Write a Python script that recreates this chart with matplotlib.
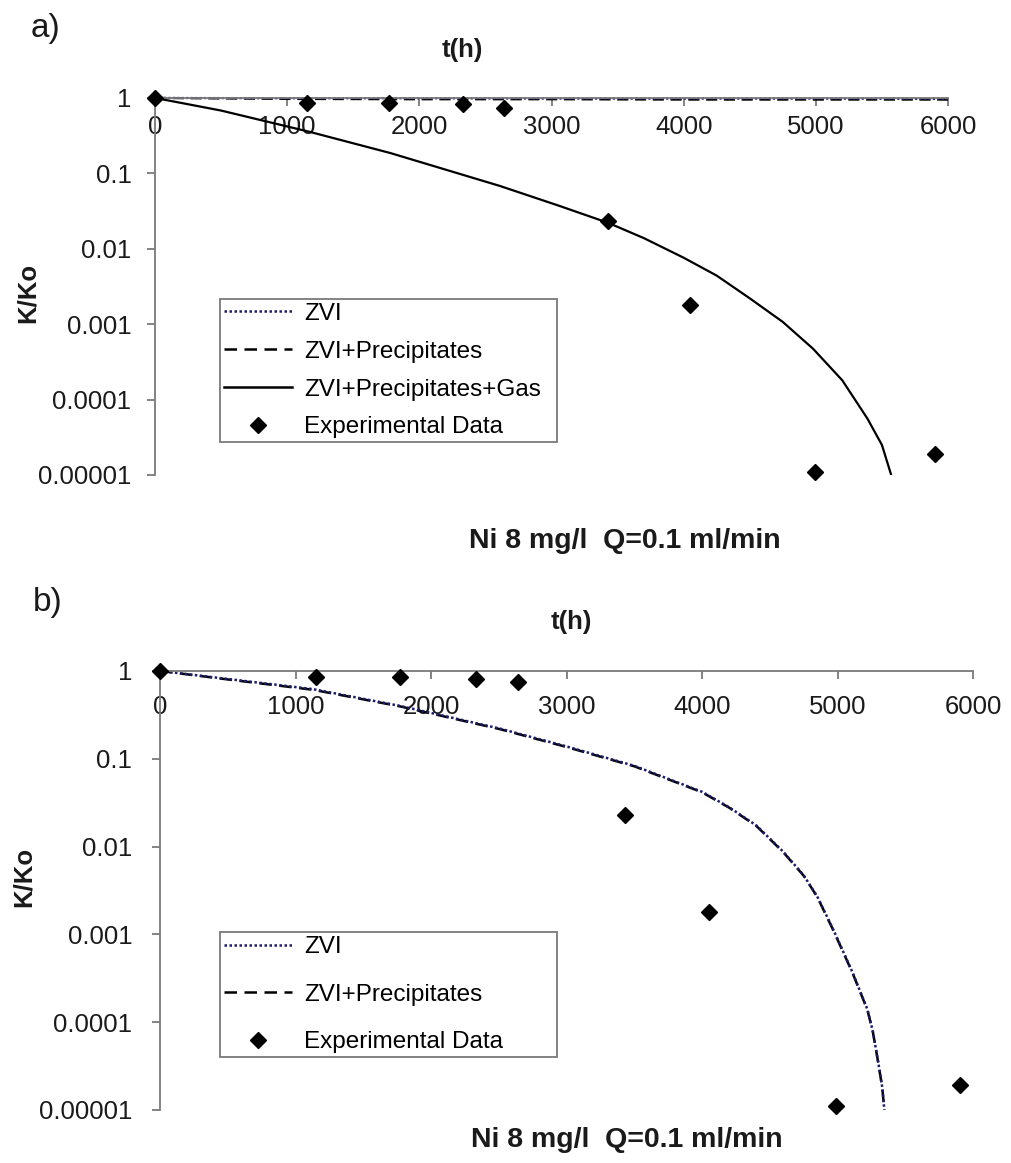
import numpy as np
import matplotlib
matplotlib.use('Agg')
from matplotlib import pyplot as plt
from matplotlib.ticker import FixedLocator, FixedFormatter, NullLocator
from matplotlib.lines import Line2D

plt.rcParams['font.family'] = ['Liberation Sans', 'DejaVu Sans']

# Experimental data (same in both panels)
t_exp = [0, 1150, 1770, 2330, 2640, 3430, 4050, 4990, 5900]
k_exp = [1.0, 0.85, 0.85, 0.82, 0.74, 0.023, 0.0018, 1.1e-5, 1.9e-5]

# panel a) models
t_flat = [0, 1000, 2000, 3000, 4000, 5000, 6000]
k_zvi_a = [1.0, 0.99, 0.99, 0.98, 0.98, 0.98, 0.97]
k_prec_a = [1.0, 0.97, 0.96, 0.96, 0.95, 0.95, 0.95]
t_gas = [0, 500, 1170, 1780, 2610, 3060, 3430, 3700, 4000, 4250, 4500, 4750, 4980,
         5200, 5390, 5500, 5570]
k_gas = [1.0, 0.68, 0.355, 0.186, 0.068, 0.037, 0.022, 0.0138, 0.0076, 0.0044,
         0.0022, 0.00107, 4.7e-4, 1.8e-4, 5.6e-5, 2.5e-5, 1.0e-5]

# panel b) models
t_b = [0, 500, 1130, 1770, 2510, 3000, 3500, 4000, 4200, 4400, 4600, 4750, 4850,
       4970, 5110, 5220, 5260, 5300, 5330, 5345]
k_zvi_b = [1.0, 0.81, 0.62, 0.40, 0.22, 0.138, 0.083, 0.042, 0.028, 0.0174, 0.0087,
           0.0047, 0.0027, 0.00112, 3.7e-4, 1.4e-4, 7.9e-5, 3.5e-5, 1.8e-5, 1.0e-5]
k_prec_b = [1.0, 0.80, 0.61, 0.395, 0.217, 0.136, 0.082, 0.0415, 0.0277, 0.0172, 0.0086,
            0.00465, 0.00267, 0.0011, 3.65e-4, 1.38e-4, 7.8e-5, 3.45e-5, 1.78e-5, 1.0e-5]

yticks = [1, 0.1, 0.01, 0.001, 0.0001, 0.00001]
ylabels = ['1', '0.1', '0.01', '0.001', '0.0001', '0.00001']
xticks = [0, 1000, 2000, 3000, 4000, 5000, 6000]

navy = '#1c1c6b'
grey = '#7a7a7a'
dotted = (0, (1, 1))
dashed = (0, (5, 3))

fig = plt.figure(figsize=(10.11, 11.63), dpi=100)
ax_a = fig.add_axes([0.1533, 0.5916, 0.7844, 0.3242])
ax_b = fig.add_axes([0.1583, 0.0456, 0.8042, 0.3775])


def style(ax, xpad, ypad):
    ax.set_yscale('log')
    ax.set_ylim(1e-5, 1)
    ax.set_xlim(0, 6000)
    ax.yaxis.set_major_locator(FixedLocator(yticks))
    ax.yaxis.set_major_formatter(FixedFormatter(ylabels))
    ax.yaxis.set_minor_locator(NullLocator())
    ax.xaxis.set_major_locator(FixedLocator(xticks))
    ax.spines['top'].set_visible(False)
    ax.spines['right'].set_visible(False)
    ax.spines['bottom'].set_position(('axes', 1.0))
    for s in ('left', 'bottom'):
        ax.spines[s].set_color(grey)
        ax.spines[s].set_linewidth(1.3)
    ax.tick_params(axis='x', direction='out', length=6, width=1.3, color=grey,
                   labelsize=18.5, pad=xpad, labelcolor='#1a1a1a')
    ax.tick_params(axis='y', direction='out', length=6, width=1.3, color=grey,
                   labelsize=18.5, pad=ypad, labelcolor='#1a1a1a')


style(ax_a, 6, 11)
style(ax_b, 11, 14)

# panel a
ax_a.plot(t_flat, k_prec_a, color='k', ls=dashed, lw=1.6, clip_on=False)
ax_a.plot(t_flat, k_zvi_a, color=navy, ls=dotted, lw=1.6, clip_on=False)
ax_a.plot(t_gas, k_gas, color='k', lw=1.6)
ax_a.plot(t_exp, k_exp, 'D', color='k', ms=8, clip_on=False, zorder=5)

# panel b
ax_b.plot(t_b, k_prec_b, color='k', ls=dashed, lw=1.8)
ax_b.plot(t_b, k_zvi_b, color=navy, ls=dotted, lw=1.8)
ax_b.plot(t_exp, k_exp, 'D', color='k', ms=8, clip_on=False, zorder=5)

h_zvi = Line2D([], [], color=navy, ls=dotted, lw=1.8)
h_prec = Line2D([], [], color='k', ls=dashed, lw=1.8)
h_gas = Line2D([], [], color='k', lw=1.8)
h_exp = Line2D([], [], color='k', marker='D', ls='none', ms=8)

leg_kw = dict(loc='lower left', fontsize=17.5, frameon=True, fancybox=False,
              framealpha=1, edgecolor=grey, handlelength=2.8, handletextpad=0.5,
              borderpad=0.15, borderaxespad=0, mode='expand')
leg = ax_a.legend([h_zvi, h_prec, h_gas, h_exp],
                  ['ZVI', 'ZVI+Precipitates', 'ZVI+Precipitates+Gas', 'Experimental Data'],
                  bbox_to_anchor=(0.082, 0.0875, 0.425, 0), labelspacing=0.65, **leg_kw)
leg.get_frame().set_linewidth(1.3)
leg = ax_b.legend([h_zvi, h_prec, h_exp],
                  ['ZVI', 'ZVI+Precipitates', 'Experimental Data'],
                  bbox_to_anchor=(0.074, 0.121, 0.4145, 0), labelspacing=1.05, **leg_kw)
leg.get_frame().set_linewidth(1.3)

# texts (figure pixel positions converted to fractions)
W, H = 1011, 1163


def ftext(x, y, s, **kw):
    fig.text(x / W, 1 - y / H, s, ha='center', va='center', color='#1a1a1a', **kw)


ftext(45, 28, 'a)', fontsize=24)
ftext(48, 603, 'b)', fontsize=24)
ftext(462, 50, 't(h)', fontsize=18.5, fontweight='bold')
ftext(571, 622, 't(h)', fontsize=18.5, fontweight='bold')
ftext(28, 293, 'K/Ko', fontsize=18.5, fontweight='bold', rotation=90)
ftext(24, 877, 'K/Ko', fontsize=18.5, fontweight='bold', rotation=90)
ftext(625, 541, 'Ni 8 mg/l  Q=0.1 ml/min', fontsize=20.5, fontweight='bold')
ftext(627, 1140, 'Ni 8 mg/l  Q=0.1 ml/min', fontsize=20.5, fontweight='bold')

fig.savefig('out.png', dpi=100)
